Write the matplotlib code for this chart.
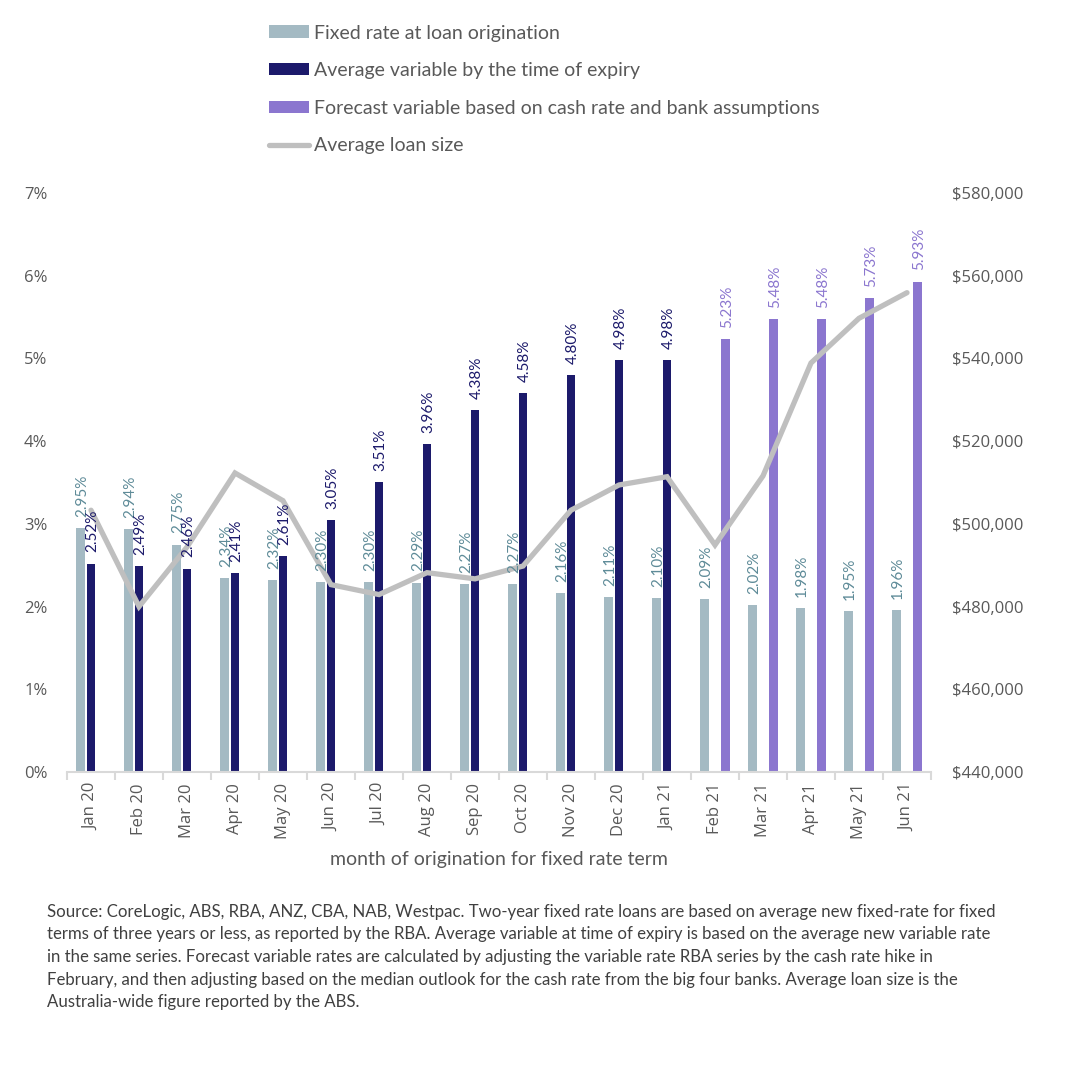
import matplotlib
matplotlib.use("Agg")
import matplotlib.pyplot as plt
from matplotlib.ticker import FuncFormatter, FixedLocator
import numpy as np

months = ["Jan 20", "Feb 20", "Mar 20", "Apr 20", "May 20", "Jun 20", "Jul 20", "Aug 20",
          "Sep 20", "Oct 20", "Nov 20", "Dec 20", "Jan 21", "Feb 21", "Mar 21", "Apr 21",
          "May 21", "Jun 21"]
fixed_rate = [2.95, 2.94, 2.75, 2.34, 2.32, 2.30, 2.30, 2.29, 2.27, 2.27, 2.16, 2.11, 2.10,
              2.09, 2.02, 1.98, 1.95, 1.96]
variable_rate = [2.52, 2.49, 2.46, 2.41, 2.61, 3.05, 3.51, 3.96, 4.38, 4.58, 4.80, 4.98, 4.98,
                 None, None, None, None, None]
forecast_rate = [None] * 13 + [5.23, 5.48, 5.48, 5.73, 5.93]
loan_size = [503300, 480000, 494400, 512300, 505600, 485300, 482900, 488200, 486700, 489800,
             503300, 509400, 511400, 494900, 511600, 538900, 549700, 555900]

legend_labels = ["Fixed rate at loan origination", "Average variable by the time of expiry",
                 "Forecast variable based on cash rate and bank assumptions", "Average loan size"]
xlabel = "month of origination for fixed rate term"
footnote = [
    "Source: CoreLogic, ABS, RBA, ANZ, CBA, NAB, Westpac. Two-year fixed rate loans are based on average new fixed-rate for fixed",
    "terms of three years or less, as reported by the RBA. Average variable at time of expiry is based on the average new variable rate",
    "in the same series. Forecast variable rates are calculated by adjusting the variable rate RBA series by the cash rate hike in",
    "February, and then adjusting based on the median outlook for the cash rate from the big four banks. Average loan size is the",
    "Australia-wide figure reported by the ABS.",
]

C_FIXED = "#A4BAC3"
C_VAR = "#1C1A6B"
C_FC = "#8B76CF"
C_LINE = "#BFBFBF"
C_FIXED_LBL = "#5E8B98"
C_TXT = "#595959"

NARROW = ["Lato", "DejaVu Sans"]
TICKF = ["Open Sans", "DejaVu Sans"]

W, H = 1071, 1092
fig = plt.figure(figsize=(W / 100, H / 100), dpi=100)
ax = fig.add_axes([67 / W, 1 - 772 / H, (931 - 67) / W, (772 - 193) / H])
ax2 = ax.twinx()

x = np.arange(len(months))
bw = 0.18
off = 0.22

def arr(v):
    return np.array([np.nan if a is None else a for a in v], dtype=float)

fx, vr, fc = arr(fixed_rate), arr(variable_rate), arr(forecast_rate)
b1 = ax.bar(x - off, fx, bw, color=C_FIXED, label=legend_labels[0])
b2 = ax.bar(x, vr, bw, color=C_VAR, label=legend_labels[1])
b3 = ax.bar(x + off, fc, bw, color=C_FC, label=legend_labels[2])

ln, = ax2.plot(x, loan_size, color=C_LINE, lw=3.8, solid_capstyle="round",
               solid_joinstyle="miter", label=legend_labels[3], zorder=2)

ax.set_xlim(-0.5, len(months) - 0.5)
ax.set_ylim(0, 7)
ax.set_yticks(np.arange(0, 8, 1))
ax.yaxis.set_major_formatter(FuncFormatter(lambda v, p: f"{v:.0f}%"))
ax2.set_ylim(440000, 580000)
ax2.set_yticks(np.arange(440000, 580001, 20000))
ax2.yaxis.set_major_formatter(FuncFormatter(lambda v, p: f"${v:,.0f}"))

ax.set_xticks(x)
ax.set_xticklabels(months, rotation=90, family=TICKF, fontsize=12, color=C_TXT)
ax.xaxis.set_minor_locator(FixedLocator(np.arange(-0.5, len(months), 1)))
ax.tick_params(axis="x", which="major", length=0, pad=8)
ax.tick_params(axis="x", which="minor", length=6, width=1.5, color="#D9D9D9")
ax.tick_params(axis="y", length=0, pad=14, labelcolor=C_TXT, labelsize=12)
ax2.tick_params(axis="y", length=0, pad=15, labelcolor=C_TXT, labelsize=12)
for lab in ax.get_yticklabels() + ax2.get_yticklabels():
    lab.set_family(TICKF)

for a in (ax, ax2):
    for s in ("top", "left", "right"):
        a.spines[s].set_visible(False)
    a.spines["bottom"].set_color("#D9D9D9")
    a.spines["bottom"].set_linewidth(1.5)
ax2.spines["bottom"].set_visible(False)

def label_bars(xs, vals, color):
    for xi, v in zip(xs, vals):
        if np.isnan(v):
            continue
        ax2.annotate(f"{v:.2f}%", xy=(xi, v), xycoords=ax.transData,
                     xytext=(1, 8), textcoords="offset points", rotation=90,
                     ha="center", va="bottom", color=color, fontsize=11,
                     family=NARROW, zorder=5)

label_bars(x - off, fx, C_FIXED_LBL)
label_bars(x, vr, C_VAR)
label_bars(x + off, fc, C_FC)

fig.legend(handles=[b1, b2, b3, ln], labels=legend_labels, loc="upper left",
           bbox_to_anchor=(251 / W, 1 - 7 / H), frameon=False,
           prop={"family": NARROW, "size": 14}, labelcolor=C_TXT,
           handlelength=2.1, handleheight=0.6, handletextpad=0.25, labelspacing=1.06)

fig.text(499 / W, 1 - 859 / H, xlabel, ha="center", va="center", family=NARROW,
         fontsize=14, color=C_TXT)

for i, line in enumerate(footnote):
    fig.text(47 / W, 1 - (912 + 22.5 * i) / H, line, ha="left", va="center",
             family=NARROW, fontsize=12.1, color="#404040")

fig.savefig("out.png", dpi=100)
